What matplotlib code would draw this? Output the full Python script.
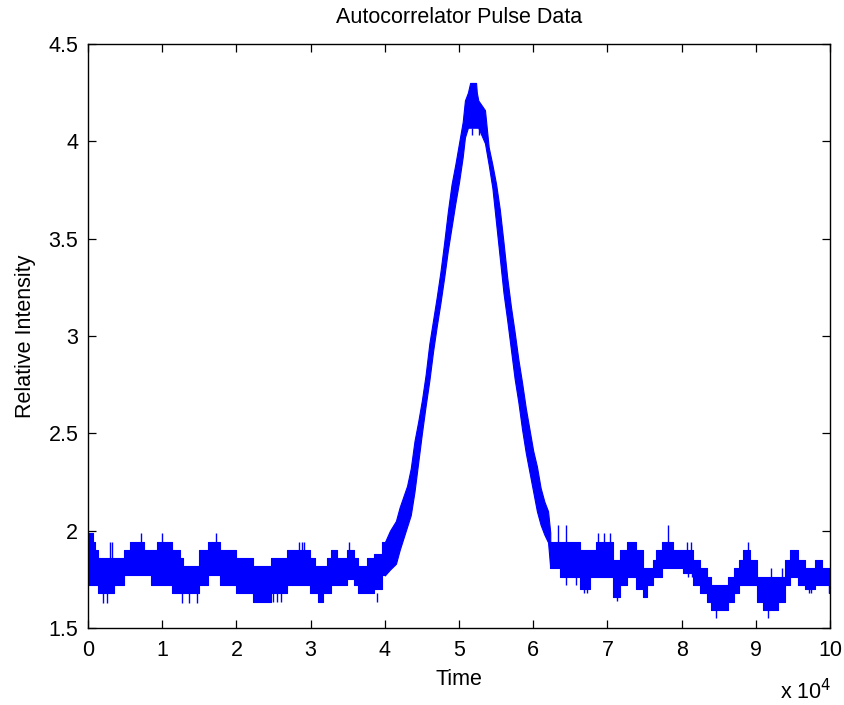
import numpy as np
import matplotlib
matplotlib.use("Agg")
import matplotlib.pyplot as plt

plt.rcParams['font.family'] = ['Liberation Sans', 'DejaVu Sans']

# Baseline before the pulse: (start time [x1e4], band top, band bottom), stepwise
pre_x   = [0.00, 0.07, 0.10, 0.14, 0.35, 0.48, 0.57, 0.75, 0.85, 0.93, 1.13, 1.24, 1.28,
           1.49, 1.62, 1.78, 2.00, 2.22, 2.47, 2.68, 2.99, 3.06, 3.10, 3.17, 3.22, 3.28,
           3.35, 3.49, 3.58, 3.64, 3.76, 3.85, 3.96, 4.00]
pre_top = [1.99, 1.94, 1.90, 1.86, 1.86, 1.90, 1.94, 1.90, 1.90, 1.94, 1.90, 1.86, 1.82,
           1.90, 1.94, 1.90, 1.86, 1.82, 1.86, 1.90, 1.86, 1.82, 1.82, 1.82, 1.86, 1.90,
           1.86, 1.90, 1.86, 1.82, 1.86, 1.88, 1.94, 1.94]
pre_bot = [1.72, 1.72, 1.72, 1.68, 1.72, 1.77, 1.77, 1.77, 1.72, 1.72, 1.68, 1.68, 1.68,
           1.72, 1.77, 1.72, 1.68, 1.635, 1.68, 1.72, 1.68, 1.68, 1.635, 1.68, 1.68, 1.72,
           1.72, 1.75, 1.72, 1.68, 1.68, 1.70, 1.77, 1.77]

# The pulse itself: band top / bottom
pk_x   = [4.00, 4.07, 4.15, 4.20, 4.30, 4.35, 4.40, 4.45, 4.50, 4.55, 4.60, 4.65, 4.70,
          4.75, 4.80, 4.85, 4.90, 4.95, 5.00, 5.05, 5.08, 5.12, 5.15, 5.23, 5.24, 5.26,
          5.35, 5.40, 5.45, 5.50, 5.55, 5.60, 5.65, 5.70, 5.75, 5.80, 5.85, 5.90, 5.95,
          6.00, 6.05, 6.10, 6.15, 6.20, 6.23]
pk_top = [1.94, 2.00, 2.05, 2.12, 2.23, 2.32, 2.46, 2.56, 2.67, 2.80, 2.96, 3.08, 3.20,
          3.33, 3.48, 3.64, 3.78, 3.88, 3.99, 4.10, 4.21, 4.25, 4.30, 4.30, 4.25, 4.21,
          4.16, 3.97, 3.88, 3.78, 3.65, 3.48, 3.30, 3.15, 3.02, 2.88, 2.76, 2.63, 2.52,
          2.41, 2.33, 2.22, 2.15, 2.10, 1.99]
pk_bot = [1.77, 1.80, 1.83, 1.90, 2.02, 2.08, 2.20, 2.35, 2.50, 2.64, 2.77, 2.92, 3.05,
          3.17, 3.30, 3.44, 3.56, 3.68, 3.79, 3.92, 4.02, 4.07, 4.07, 4.07, 4.07, 4.07,
          3.99, 3.88, 3.76, 3.58, 3.40, 3.22, 3.08, 2.93, 2.78, 2.66, 2.52, 2.40, 2.30,
          2.20, 2.10, 2.03, 1.98, 1.94, 1.81]

# Baseline after the pulse, stepwise
post_x   = [6.23, 6.36, 6.63, 6.77, 6.85, 7.08, 7.17, 7.26, 7.39, 7.48, 7.53, 7.62, 7.66,
            7.73, 7.89, 8.02, 8.16, 8.25, 8.34, 8.40, 8.63, 8.70, 8.77, 8.83, 8.92, 9.01,
            9.10, 9.30, 9.39, 9.46, 9.57, 9.66, 9.80, 9.89, 9.98, 10.00]
post_top = [1.94, 1.94, 1.90, 1.90, 1.94, 1.85, 1.90, 1.94, 1.90, 1.81, 1.81, 1.85, 1.90,
            1.94, 1.90, 1.90, 1.85, 1.81, 1.76, 1.72, 1.76, 1.81, 1.85, 1.90, 1.85, 1.76,
            1.76, 1.76, 1.85, 1.90, 1.85, 1.81, 1.85, 1.81, 1.81, 1.81]
post_bot = [1.81, 1.76, 1.70, 1.76, 1.76, 1.66, 1.72, 1.76, 1.70, 1.66, 1.72, 1.76, 1.76,
            1.81, 1.81, 1.78, 1.72, 1.68, 1.635, 1.59, 1.635, 1.68, 1.72, 1.72, 1.72, 1.635,
            1.59, 1.635, 1.72, 1.76, 1.72, 1.70, 1.72, 1.72, 1.68, 1.68]

# Isolated noise spikes: time, low, high
spike_x  = [0.30, 0.33, 0.72, 1.00, 1.73, 2.85, 2.88, 2.91, 3.52, 6.33, 6.44, 6.88, 6.95,
            7.04, 7.82, 8.07, 8.13, 8.89, 9.20, 9.35,
            0.20, 0.25, 1.27, 1.36, 1.47, 2.45, 2.50, 2.55, 2.60, 3.90, 6.44, 6.58, 6.69,
            6.72, 7.13, 8.08, 8.14, 8.46, 9.17, 9.72, 9.75, 9.99, 5.18, 5.27]
spike_lo = [1.86, 1.86, 1.94, 1.94, 1.94, 1.90, 1.90, 1.90, 1.90, 1.94, 1.94, 1.94, 1.94,
            1.94, 1.94, 1.90, 1.90, 1.90, 1.76, 1.76,
            1.63, 1.63, 1.63, 1.63, 1.63, 1.635, 1.635, 1.635, 1.635, 1.635, 1.72, 1.72, 1.68,
            1.68, 1.64, 1.76, 1.76, 1.55, 1.55, 1.68, 1.68, 1.68, 4.03, 4.03]
spike_hi = [1.94, 1.94, 1.99, 1.99, 1.99, 1.94, 1.94, 1.94, 1.94, 2.03, 2.03, 1.99, 1.99,
            1.99, 2.03, 1.94, 1.94, 1.94, 1.81, 1.81,
            1.68, 1.68, 1.68, 1.68, 1.68, 1.68, 1.68, 1.68, 1.68, 1.68, 1.76, 1.76, 1.72,
            1.72, 1.68, 1.81, 1.81, 1.59, 1.59, 1.72, 1.72, 1.72, 4.07, 4.07]

x_ticks = [0, 1, 2, 3, 4, 5, 6, 7, 8, 9, 10]
y_ticks = [1.5, 2, 2.5, 3, 3.5, 4, 4.5]

blue = (0, 0, 1)
fs = 15.5

fig = plt.figure(figsize=(8.45, 7.05), dpi=100)
ax = fig.add_axes([88 / 845, 77 / 705, 742 / 845, 584 / 705])

ax.fill_between(pre_x, pre_top, pre_bot, step='post', color=blue, lw=0.8)
ax.fill_between(pk_x, pk_top, pk_bot, color=blue, lw=0.8)
ax.fill_between(post_x, post_top, post_bot, step='post', color=blue, lw=0.8)
ax.vlines(spike_x, spike_lo, spike_hi, color=blue, lw=1.0)

ax.set_xlim(0, 10)
ax.set_ylim(1.5, 4.5)
ax.set_xticks(x_ticks)
ax.set_xticklabels([str(v) for v in x_ticks])
ax.set_yticks(y_ticks)
ax.set_yticklabels([f"{v:g}" for v in y_ticks])
ax.tick_params(direction='in', length=6, width=0.9, top=True, right=True,
               labelsize=fs, colors='black')
ax.tick_params(axis='x', pad=8.5)
ax.tick_params(axis='y', pad=7)
for s in ax.spines.values():
    s.set_linewidth(1.0)

ax.set_title('Autocorrelator Pulse Data', fontsize=fs, pad=15)
ax.set_xlabel('Time', fontsize=fs, labelpad=6)
ax.set_ylabel('Relative Intensity', fontsize=fs, labelpad=9)
fig.text(780 / 845, 1 - 692 / 705, 'x 10$^4$', fontsize=fs, ha='left', va='center')

fig.savefig('out.png', dpi=100, facecolor='white')
